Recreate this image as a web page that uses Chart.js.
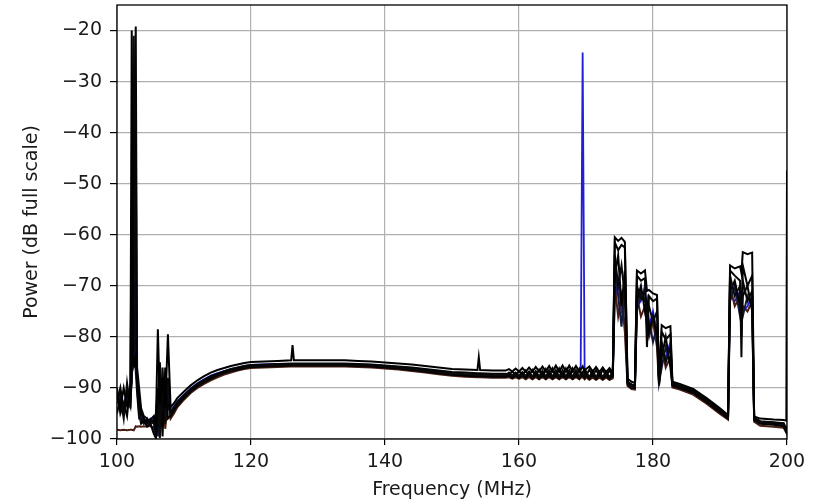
<!DOCTYPE html>
<html>
<head>
<meta charset="utf-8">
<script src="https://cdn.jsdelivr.net/npm/chart.js@4"></script>
<style>
  html, body { margin: 0; padding: 0; background: #ffffff; }
  #spectrumChart { display: block; }
</style>
</head>
<body>
<canvas id="spectrumChart" width="816" height="502"></canvas>
<script>
// frequency grid (MHz), shared by every sweep
const freqs = [
  100, 100.5, 101, 101.5, 102, 102.2, 102.5, 102.8, 103, 103.3,
  103.6, 104, 104.5, 105, 105.5, 105.8, 106.1, 106.4, 106.8, 107.2,
  107.6, 108, 108.5, 109, 110, 111, 112, 113, 114, 115,
  116, 117, 118, 119, 120, 122, 124, 126, 126.2, 126.4,
  128, 130, 132, 134, 136, 138, 140, 142, 144, 146,
  148, 150, 152, 153.8, 154, 154.2, 156, 158, 158.5, 159,
  159.5, 160, 160.5, 161, 161.5, 162, 162.5, 163, 163.5, 164,
  164.5, 165, 165.5, 166, 166.5, 167, 167.5, 168, 168.5, 169,
  169.2, 169.5, 169.8, 170, 170.5, 171, 171.5, 172, 172.5, 173,
  173.5, 174, 174.3, 174.8, 175.3, 175.8, 176.2, 176.8, 177.3, 177.6,
  178.2, 178.8, 179.1, 179.4, 180, 180.6, 180.9, 181.3, 181.9, 182.6,
  182.9, 184, 186, 188, 190, 191.2, 191.5, 192.2, 193, 193.2,
  193.4, 194.1, 194.8, 195.1, 196, 198, 199.5, 199.9, 200
];

// power (dB full scale) of each sweep
const sweepA = [
  -91, -94, -90, -93.5, -90.5, -20, -86, -84, -89, -92,
  -95, -96, -96.8, -96.2, -95.5, -97, -78.5, -93, -88, -94,
  -79.5, -93.8, -93, -92, -90.7, -89.5, -88.5, -87.7, -87, -86.5,
  -86.1, -85.7, -85.4, -85.1, -84.9, -84.8, -84.7, -84.6, -81.6, -84.6,
  -84.6, -84.6, -84.6, -84.6, -84.7, -84.8, -85.0, -85.2, -85.4, -85.7,
  -86.0, -86.3, -86.4, -86.5, -84, -86.5, -86.6, -86.6, -86.3, -86.8,
  -86.2, -86.8, -86.1, -86.8, -86, -86.8, -85.9, -86.8, -85.8, -86.8,
  -85.7, -86.8, -85.6, -86.8, -85.6, -86.8, -85.6, -86.8, -85.7, -86.8,
  -86.4, -85.8, -86.8, -86.3, -85.8, -86.8, -85.9, -86.9, -86, -86.9,
  -86.1, -87, -60.5, -61.2, -60.6, -61.4, -88.2, -88.8, -89, -67,
  -67.6, -67, -71, -70.8, -71.5, -71.8, -88, -77.7, -78.3, -77.9,
  -88.8, -89.2, -90.2, -92, -94, -95.3, -66, -66.6, -66.2, -67.5,
  -63.4, -63.8, -63.5, -95.6, -96, -96.2, -96.3, -96.4, -47.4
];
const sweepB = [
  -93, -90, -94, -91, -93.5, -88, -45, -19.2, -86, -90,
  -94, -95.5, -96, -97, -96, -99.5, -92, -85, -95, -90,
  -93, -94.8, -93.8, -92.8, -91.4, -90.2, -89.2, -88.4, -87.7, -87.2,
  -86.7, -86.3, -86, -85.7, -85.5, -85.4, -85.3, -85.2, -85.2, -85.2,
  -85.2, -85.2, -85.2, -85.2, -85.3, -85.4, -85.6, -85.8, -86, -86.3,
  -86.6, -86.9, -87, -87.1, -87.1, -87.1, -87.2, -87.2, -87.4, -86.8,
  -87.5, -86.7, -87.5, -86.6, -87.6, -86.5, -87.6, -86.4, -87.7, -86.3,
  -87.7, -86.2, -87.7, -86.2, -87.7, -86.2, -87.7, -86.2, -87.7, -86.3,
  -87.2, -86.9, -86.4, -87.6, -86.4, -87.6, -86.5, -87.6, -86.5, -87.6,
  -86.6, -87.5, -61.5, -63, -62, -62.5, -88.8, -89.3, -89.5, -68,
  -69, -68.5, -82, -72, -73, -72.5, -89, -79, -80.5, -79.5,
  -89.3, -89.7, -90.7, -92.5, -94.5, -95.7, -67, -68, -69, -84,
  -66, -70, -68, -96, -96.6, -96.8, -97, -98.3, -97.8
];
const sweepC = [
  -95, -92, -96, -89, -94, -85, -21, -83, -88, -94,
  -96.5, -96, -97, -96.5, -97, -95, -90, -99.8, -86, -97,
  -88, -95, -94, -93, -91.6, -90.4, -89.4, -88.6, -87.9, -87.4,
  -86.9, -86.5, -86.2, -85.9, -85.7, -85.6, -85.5, -85.4, -85.4, -85.4,
  -85.4, -85.4, -85.4, -85.4, -85.5, -85.6, -85.8, -86, -86.3, -86.6,
  -86.9, -87.2, -87.3, -87.4, -87.4, -87.4, -87.5, -87.5, -87, -87.6,
  -87, -87.7, -86.9, -87.7, -86.8, -87.8, -86.7, -87.8, -86.6, -87.9,
  -86.5, -87.9, -86.5, -87.9, -86.5, -87.9, -86.5, -87.9, -86.5, -87.9,
  -87.5, -87, -87.6, -86.8, -87.9, -86.7, -87.9, -86.8, -87.9, -86.8,
  -87.9, -86.9, -64, -70, -66, -72, -89, -89.8, -89.6, -70,
  -72.5, -71, -76, -74, -77, -75, -88.6, -81, -85, -82,
  -89, -89.5, -90.5, -92.3, -94.3, -95.5, -68, -72, -70, -80,
  -69, -73, -71, -95.8, -96.5, -96.7, -96.9, -98, -97.5
];
const sweepD = [
  -90, -95, -93, -95.5, -89, -55, -30, -40, -90, -95,
  -97, -96.5, -97.5, -97, -99, -99.8, -96, -88, -99.5, -86,
  -96, -95.5, -94.5, -93.4, -92, -90.7, -89.7, -88.9, -88.2, -87.6,
  -87.1, -86.7, -86.4, -86.1, -85.9, -85.8, -85.7, -85.6, -85.6, -85.6,
  -85.6, -85.6, -85.6, -85.6, -85.7, -85.8, -86, -86.2, -86.5, -86.8,
  -87.1, -87.4, -87.6, -87.7, -87.7, -87.7, -87.8, -87.8, -87.6, -88,
  -87.5, -88.1, -87.5, -88.1, -87.4, -88.2, -87.4, -88.2, -87.4, -88.2,
  -87.4, -88.2, -87.4, -88.2, -87.4, -88.2, -87.4, -88.2, -87.4, -88.2,
  -87.8, -87.5, -88.1, -87.4, -88.2, -87.5, -88.3, -87.5, -88.3, -87.5,
  -88.3, -87.6, -68, -64, -74, -67, -89.3, -90, -90, -73,
  -70, -75, -73, -79, -76, -80, -89.3, -84, -80, -86,
  -89.6, -90, -91, -92.8, -94.8, -96, -71, -69, -74, -77,
  -72, -70, -75, -96.3, -97, -97.2, -97.5, -98.6, -98
];
const sweepE = [
  -98.2, -98.3, -98.2, -98.3, -98.2, -98.2, -98.3, -97.5, -97.6, -97.5,
  -97.6, -97.5, -97.6, -97.4, -97.8, -99.6, -94, -99, -90, -98,
  -92, -96, -95, -93.8, -92.3, -91, -90, -89.2, -88.5, -87.9,
  -87.4, -87, -86.6, -86.3, -86.1, -86, -85.9, -85.8, -85.8, -85.8,
  -85.8, -85.8, -85.8, -85.8, -85.9, -86, -86.2, -86.4, -86.7, -87,
  -87.3, -87.6, -87.8, -87.9, -87.9, -87.9, -88, -88, -87.9, -88.2,
  -87.9, -88.2, -87.9, -88.3, -87.9, -88.3, -87.9, -88.3, -87.9, -88.3,
  -87.9, -88.3, -87.9, -88.3, -87.9, -88.3, -87.9, -88.3, -87.9, -88.3,
  -88, -87.9, -88.3, -87.9, -88.4, -88, -88.4, -88, -88.4, -88,
  -88.4, -88.1, -70, -76, -72, -79, -89.6, -90.2, -90.3, -72,
  -76, -74, -78, -80, -77, -82, -89.6, -82, -86, -84,
  -89.9, -90.3, -91.3, -93.1, -95.1, -96.2, -70, -74, -72, -76,
  -74, -75, -73, -96.6, -97.4, -97.6, -97.8, -98.8, -98.3
];
const sweepF = [
  -92.5, -91, -95, -92, -91, -89, -60, -87, -91, -96,
  -96, -97, -96, -97.5, -98, -96, -99.5, -91, -97, -95,
  -90, -95.3, -94.2, -93.1, -91.8, -90.6, -89.6, -88.8, -88.1, -87.5,
  -87, -86.6, -86.3, -86, -85.8, -85.7, -85.6, -85.5, -85.5, -85.5,
  -85.5, -85.5, -85.5, -85.5, -85.6, -85.7, -85.9, -86.1, -86.4, -86.7,
  -87, -87.3, -87.5, -87.6, -87.6, -87.6, -87.7, -87.7, -87.2, -87.8,
  -87.1, -87.9, -87.1, -87.9, -87, -88, -87, -88, -86.9, -88,
  -86.9, -88, -86.9, -88, -86.9, -88, -86.9, -88, -86.9, -88,
  -87.5, -87.2, -87.9, -87, -88, -87.1, -88, -87.1, -88, -87.1,
  -88, -87.2, -66, -72, -78, -70, -89.1, -89.6, -89.8, -75,
  -71, -73, -74, -77, -81, -78, -89, -86, -82, -85,
  -89.4, -89.8, -90.8, -92.6, -94.6, -95.8, -73, -70, -76, -74,
  -76, -72, -74, -96.2, -96.8, -97, -97.2, -98.5, -97.9
];
const sweepG = [
  -93, -92, -94, -90, -92, -87, -86, -70, -87, -93,
  -95.5, -96.2, -96.5, -96, -97, -98, -93, -96, -92, -96,
  -94, -94.5, -93.6, -92.6, -91.3, -90.1, -89.1, -88.3, -87.6, -87.1,
  -86.7, -86.3, -86, -85.7, -85.5, -85.4, -85.3, -85.3, -85.3, -85.3,
  -85.3, -85.3, -85.3, -85.3, -85.4, -85.5, -85.7, -85.9, -86.2, -86.5,
  -86.8, -87.1, -87.3, -87.4, -87.4, -87.4, -87.5, -87.5, -87.3, -87.6,
  -87.3, -87.6, -87.2, -87.7, -87.2, -87.7, -87.2, -87.7, -87.2, -87.7,
  -87.2, -87.7, -87.2, -87.7, -87.2, -87.7, -87.2, -87.7, -87.2, -87.6,
  -87.5, -24.3, -87.6, -87.3, -87.7, -87.3, -87.7, -87.3, -87.7, -87.3,
  -87.7, -87.4, -73, -69, -75, -77, -89, -89.5, -89.7, -74,
  -73, -70, -76, -78, -75, -79, -88.8, -83, -84, -81,
  -89.2, -89.6, -90.6, -92.4, -94.4, -95.6, -72, -73, -71, -72,
  -75, -74, -72, -96.1, -96.7, -96.9, -97.1, -98.1, -97.6
];

const sweepColors = ["#000000", "#050505", "#0a0a0a", "#000000", "#141a3c", "#4a1e14", "#1f1fd6"];
const sweeps = [sweepA, sweepB, sweepC, sweepD, sweepF, sweepE, sweepG];

const xTicks = [100, 120, 140, 160, 180, 200];
const yTicks = [-100, -90, -80, -70, -60, -50, -40, -30, -20];

const fontSpec = { family: "'DejaVu Sans'", size: 19 };

// axes frame on top of the traces, like matplotlib spines
const framePlugin = {
    id: "frame",
    afterDatasetsDraw(chart) {
        const a = chart.chartArea;
        const ctx = chart.ctx;
        ctx.save();
        ctx.strokeStyle = "#000000";
        ctx.lineWidth = 1.3;
        ctx.strokeRect(a.left, a.top, a.right - a.left, a.bottom - a.top);
        ctx.restore();
    }
};

const ctx = document.getElementById("spectrumChart").getContext("2d");

new Chart(ctx, {
    type: "line",
    data: {
        datasets: sweeps.map((s, k) => ({
            data: freqs.map((f, i) => ({ x: f, y: s[i] })),
            borderColor: sweepColors[k],
            borderWidth: k === 6 ? 1.8 : 2,
            pointRadius: 0,
            tension: 0,
            fill: false
        }))
    },
    options: {
        responsive: false,
        animation: false,
        devicePixelRatio: 1,
        layout: { padding: { left: 0, right: 29, top: 5, bottom: 0 } },
        plugins: {
            legend: { display: false },
            tooltip: { enabled: false }
        },
        scales: {
            x: {
                type: "linear",
                min: 100,
                max: 200,
                afterBuildTicks: s => { s.ticks = xTicks.map(v => ({ value: v })); },
                afterFit: s => { s.height = 63; s.paddingLeft = 0; s.paddingRight = 0; },
                border: { display: false },
                grid: { color: "#b0b0b0", lineWidth: 1.2, tickColor: "#000000", tickLength: 6, tickWidth: 1.2 },
                ticks: { font: fontSpec, color: "#1a1a1a", padding: 6, maxRotation: 0 },
                title: { display: true, text: "Frequency (MHz)", font: fontSpec, color: "#1a1a1a", padding: { top: 0, bottom: 1 } }
            },
            y: {
                type: "linear",
                min: -100,
                max: -15,
                afterBuildTicks: s => { s.ticks = yTicks.map(v => ({ value: v })); },
                afterFit: s => { s.width = 117; s.paddingTop = 0; s.paddingBottom = 0; },
                border: { display: false },
                grid: { color: "#b0b0b0", lineWidth: 1.2, tickColor: "#000000", tickLength: 7, tickWidth: 1.2 },
                ticks: {
                    font: fontSpec,
                    color: "#1a1a1a",
                    padding: 8,
                    callback: v => String(v).replace("-", "\u2212")
                },
                title: { display: true, text: "Power (dB full scale)", font: fontSpec, color: "#1a1a1a", padding: { top: 21, bottom: 0 } }
            }
        }
    },
    plugins: [framePlugin]
});
</script>
</body>
</html>
